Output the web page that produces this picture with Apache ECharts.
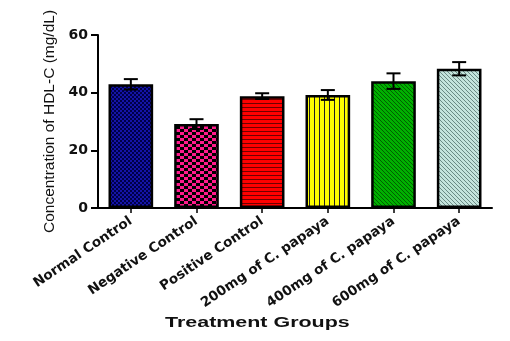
<!DOCTYPE html>
<html><head><meta charset="utf-8">
<script src="https://cdn.jsdelivr.net/npm/echarts@6/dist/echarts.min.js"></script>
<style>html,body{margin:0;padding:0;background:#fff}#c{width:510px;height:341px}</style>
</head><body><div id="c"></div>
<script>
const categories = ['Normal Control','Negative Control','Positive Control','200mg of C. papaya','400mg of C. papaya','600mg of C. papaya'];
const means = [42.9, 29.1, 38.8, 39.2, 44.0, 48.3];
const errors = [1.8, 1.7, 1.0, 1.7, 2.7, 2.3];
const yTicks = [0, 20, 40, 60];

function pat(w, h, draw) {
  const c = document.createElement('canvas');
  c.width = w; c.height = h;
  const g = c.getContext('2d');
  draw(g);
  return { image: c, repeat: 'repeat' };
}
const patterns = [
  pat(4, 4, g => { g.fillStyle = '#1414a8'; g.fillRect(0,0,4,4); g.fillStyle = '#000048'; g.fillRect(0,0,2,2); g.fillRect(2,2,2,2); }),
  pat(8, 6, g => { g.fillStyle = '#ff1a8c'; g.fillRect(0,0,8,6); g.fillStyle = '#000'; g.fillRect(0,0,4,3); g.fillRect(4,3,4,3); }),
  pat(4, 4, g => { g.fillStyle = '#ff0000'; g.fillRect(0,0,4,4); g.fillStyle = '#700000'; g.fillRect(0,3,4,1); }),
  pat(5, 4, g => { g.fillStyle = '#ffff00'; g.fillRect(0,0,5,4); g.fillStyle = '#222'; g.fillRect(4,0,1,4); }),
  pat(4, 4, g => { g.fillStyle = '#00b000'; g.fillRect(0,0,4,4); g.fillStyle = '#006000'; for (let i=0;i<4;i++) g.fillRect(i,i,1,1); }),
  pat(4, 4, g => { g.fillStyle = '#c4e4dc'; g.fillRect(0,0,4,4); g.fillStyle = '#6a8a84'; for (let i=0;i<4;i++) g.fillRect(i,i,1,1); })
];

const chart = echarts.init(document.getElementById('c'), null, { renderer: 'canvas' });
const labelFont = 'DejaVu Sans';
chart.setOption({
  animation: false,
  grid: { left: 98, right: 18, top: 35, bottom: 133 },
  xAxis: {
    type: 'category',
    data: categories,
    axisLine: { lineStyle: { color: '#000', width: 2 } },
    axisTick: { show: true, alignWithLabel: true, length: 5, lineStyle: { color: '#000', width: 1.5 } },
    axisLabel: { rotate: 34, interval: 0, margin: 12, color: '#111', fontFamily: labelFont, fontWeight: 'bold', fontSize: 13.5 }
  },
  yAxis: {
    type: 'value', min: 0, max: 60, interval: 20,
    name: 'Concentration of HDL-C (mg/dL)', nameLocation: 'middle', nameGap: 40, nameRotate: 90,
    nameTextStyle: { fontFamily: 'Liberation Sans', fontSize: 15.5, color: '#111' },
    splitLine: { show: false },
    axisLine: { show: true, lineStyle: { color: '#000', width: 2 } },
    axisTick: { show: true, length: 7, lineStyle: { color: '#000', width: 2 } },
    axisLabel: { margin: 10, color: '#111', fontFamily: labelFont, fontWeight: 'bold', fontSize: 14,
      formatter: v => yTicks.includes(v) ? String(v) : '' }
  },
  graphic: [{
    type: 'text', left: 165, top: 315, scaleX: 1.43,
    style: { text: 'Treatment Groups', font: 'bold 15px "Liberation Sans"', fill: '#111' }
  }],
  series: [{
    type: 'bar',
    barWidth: '68%',
    data: means.map((v, i) => ({ value: v, itemStyle: { color: patterns[i] } })),
    itemStyle: { borderColor: '#000', borderWidth: 2.5 }
  }, {
    type: 'custom',
    data: means.map((v, i) => [i, v - errors[i], v + errors[i]]),
    renderItem: (params, api) => {
      const lo = api.coord([api.value(0), api.value(1)]);
      const hi = api.coord([api.value(0), api.value(2)]);
      const hw = 7;
      const st = { stroke: '#000', lineWidth: 2 };
      return { type: 'group', children: [
        { type: 'line', shape: { x1: hi[0], y1: hi[1], x2: lo[0], y2: lo[1] }, style: st },
        { type: 'line', shape: { x1: hi[0]-hw, y1: hi[1], x2: hi[0]+hw, y2: hi[1] }, style: st },
        { type: 'line', shape: { x1: lo[0]-hw, y1: lo[1], x2: lo[0]+hw, y2: lo[1] }, style: st }
      ]};
    },
    z: 5
  }]
});
</script></body></html>
